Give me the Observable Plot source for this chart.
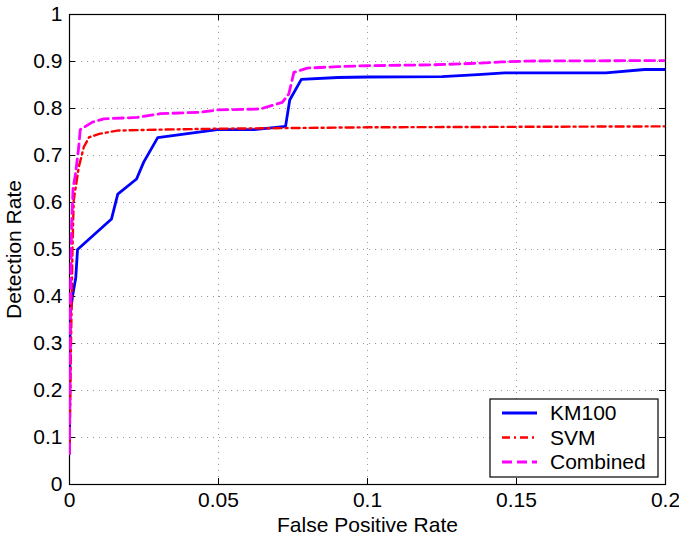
<!DOCTYPE html>
<html>
<head>
<meta charset="utf-8">
<script src="https://cdn.jsdelivr.net/npm/d3@7"></script>
<script src="https://cdn.jsdelivr.net/npm/@observablehq/plot@0.6"></script>
<style>
  body { margin: 0; background: #fff; }
  svg { font-family: "Liberation Sans", Arial, Helvetica, sans-serif; }
</style>
</head>
<body>
<div id="chart"></div>
<script>
// ---- data ----
const xTicks = [0, 0.05, 0.1, 0.15, 0.2];
const xTickLabels = ["0", "0.05", "0.1", "0.15", "0.2"];
const yTicks = [0, 0.1, 0.2, 0.3, 0.4, 0.5, 0.6, 0.7, 0.8, 0.9, 1];
const yTickLabels = ["0", "0.1", "0.2", "0.3", "0.4", "0.5", "0.6", "0.7", "0.8", "0.9", "1"];

const seriesNames = ["KM100", "SVM", "Combined"];
const seriesColors = ["#0000ff", "#ff0000", "#ff00ff"];
const seriesDash = [null, "8,4,2,4", "10,5"];
const seriesWidth = [2.8, 2.4, 2.8];

const km100X = [0, 0.0002, 0.001, 0.0021, 0.0027, 0.0141, 0.0162, 0.0225, 0.0249, 0.0296, 0.0496, 0.062, 0.0725, 0.0739, 0.0778, 0.09, 0.1, 0.125, 0.137, 0.146, 0.18, 0.193, 0.2];
const km100Y = [0.066, 0.36, 0.40, 0.44, 0.50, 0.565, 0.618, 0.650, 0.686, 0.738, 0.755, 0.755, 0.762, 0.818, 0.862, 0.866, 0.867, 0.868, 0.872, 0.876, 0.876, 0.883, 0.883];

const svmX = [0, 0.0005, 0.001, 0.0014, 0.0031, 0.0048, 0.0066, 0.01, 0.016, 0.03, 0.05, 0.1, 0.15, 0.2];
const svmY = [0.066, 0.30, 0.50, 0.604, 0.675, 0.718, 0.739, 0.746, 0.753, 0.755, 0.757, 0.760, 0.761, 0.762];

const combX = [0, 0.0003, 0.0007, 0.0012, 0.002, 0.0031, 0.0036, 0.0077, 0.0115, 0.0227, 0.0305, 0.044, 0.0496, 0.064, 0.0714, 0.0736, 0.0753, 0.0798, 0.09, 0.1, 0.122, 0.132, 0.145, 0.154, 0.2];
const combY = [0.066, 0.40, 0.55, 0.63, 0.66, 0.718, 0.755, 0.771, 0.778, 0.781, 0.789, 0.792, 0.797, 0.799, 0.813, 0.831, 0.877, 0.886, 0.889, 0.891, 0.893, 0.895, 0.899, 0.901, 0.902];

const toRows = (xs, ys) => xs.map((x, i) => ({x, y: ys[i]}));
const seriesData = [toRows(km100X, km100Y), toRows(svmX, svmY), toRows(combX, combY)];

const W = 679, H = 537;
const mL = 69, mR = 14, mT = 14, mB = 53;
const tick = 6;
const FS = 21;

const lineMarks = seriesData.map((rows, i) =>
  Plot.line(rows, {
    x: "x", y: "y",
    stroke: seriesColors[i],
    strokeWidth: seriesWidth[i],
    strokeDasharray: seriesDash[i],
    strokeLinejoin: "round",
    clip: true
  })
);

const svg = Plot.plot({
  width: W, height: H,
  marginLeft: mL, marginRight: mR, marginTop: mT, marginBottom: mB,
  style: {fontSize: FS + "px", fontFamily: "'Liberation Sans', Arial, Helvetica, sans-serif", color: "#000", background: "#fff"},
  x: {domain: [0, 0.2]},
  y: {domain: [0, 1]},
  marks: [
    Plot.gridX(xTicks, {stroke: "#999", strokeOpacity: 1, strokeDasharray: "1,5", strokeWidth: 1}),
    Plot.gridY(yTicks, {stroke: "#999", strokeOpacity: 1, strokeDasharray: "1,5", strokeWidth: 1}),
    // inward ticks on all four sides
    Plot.tickX(xTicks, {x: d => d, stroke: "#000", insetTop: H - mT - mB - tick}),
    Plot.tickX(xTicks, {x: d => d, stroke: "#000", insetBottom: H - mT - mB - tick}),
    Plot.tickY(yTicks, {y: d => d, stroke: "#000", insetRight: W - mL - mR - tick}),
    Plot.tickY(yTicks, {y: d => d, stroke: "#000", insetLeft: W - mL - mR - tick}),
    Plot.axisX(xTicks, {tickSize: 0, tickPadding: 8, tickFormat: (d, i) => xTickLabels[i], fontSize: FS,
      label: "False Positive Rate", labelAnchor: "center", labelArrow: "none", labelOffset: 47}),
    Plot.axisY(yTicks, {tickSize: 0, tickPadding: 7, tickFormat: (d, i) => yTickLabels[i], fontSize: FS,
      label: "Detection Rate", labelAnchor: "center", labelArrow: "none", labelOffset: 63}),
    Plot.frame({stroke: "#000", strokeWidth: 1.2}),
    ...lineMarks
  ]
});

// legend drawn inside the same SVG
const g = d3.select(svg).append("g").attr("font-size", FS)
  .attr("text-anchor", "start")
  .attr("font-family", "'Liberation Sans', Arial, Helvetica, sans-serif");
g.append("rect").attr("x", 490).attr("y", 399).attr("width", 168).attr("height", 78)
  .attr("fill", "#fff").attr("stroke", "#000").attr("stroke-width", 1.2);
seriesNames.forEach((name, i) => {
  const cy = 413 + i * 24.5;
  g.append("line").attr("x1", 502).attr("x2", 537).attr("y1", cy).attr("y2", cy)
    .attr("stroke", seriesColors[i]).attr("stroke-width", seriesWidth[i])
    .attr("stroke-dasharray", seriesDash[i]);
  g.append("text").attr("x", 550).attr("y", cy).attr("dy", "0.35em")
    .attr("text-anchor", "start").attr("fill", "#000").text(name);
});

document.getElementById("chart").appendChild(svg);
</script>
</body>
</html>
